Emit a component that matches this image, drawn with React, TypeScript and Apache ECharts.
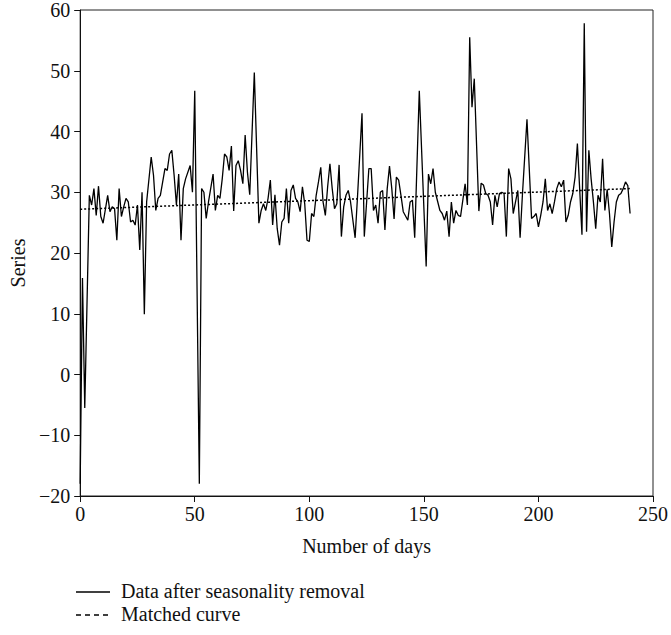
import React, { useEffect, useRef } from "react";
import * as echarts from "echarts";

const days = [0,1,2,4,5,6,7,8,9,10,12,13,14,15,16,17,18,19,20,21,22,23,24,25,26,27,28,29,31,32,33,34,35,37,38,39,40,41,42,43,44,45,46,48,49,50,52,53,54,55,56,58,59,60,61,62,63,64,65,66,67,68,69,70,71,72,73,74,76,78,79,80,81,82,83,84,85,86,87,88,89,90,91,92,93,94,95,96,97,98,99,100,101,102,103,104,105,106,107,108,109,110,111,112,113,114,115,116,117,118,120,121,123,124,126,127,128,129,130,131,132,133,134,135,136,137,138,139,140,141,143,144,145,146,148,151,152,153,154,155,157,158,159,160,161,162,163,164,165,166,168,169,170,171,172,174,175,176,177,178,179,180,181,182,183,184,185,186,187,188,189,190,191,192,193,195,197,198,199,200,201,202,203,204,205,206,207,208,209,210,211,212,213,214,215,216,217,219,220,221,222,223,224,225,226,227,228,229,230,231,232,233,234,235,236,237,238,239,240];
const values = [-18,15.9,-5.5,29.5,27.9,30.6,26.2,31,26,24.9,29.5,26.8,27.6,27.3,22.1,30.6,26,27.6,29,28.4,25.1,25.4,24.6,27.9,20.5,30,9.9,28.4,35.8,32.8,27,29,29.5,33.9,33.6,36.3,36.9,32.8,27.9,33,22.1,30.6,32.2,34.4,30,46.7,-18,30.6,30,25.7,28.4,33,27,29.5,29,32.2,36.3,35.8,33.6,37.6,26.9,34.4,35.2,33.6,31.4,39.4,33.3,29.6,49.7,24.9,27,28.1,27,29,32,24.6,29.6,24,21.3,25.1,25.7,30.6,24.9,30.3,31.2,29,28.4,26.8,30.9,28.1,22.1,21.9,26.5,26,29.5,31.7,34.1,28.4,26.2,30.9,34.7,30.6,27.3,28.1,34.5,22.7,27.6,29.5,30.3,28.4,22.5,29,43,22.7,33.9,33.9,27,27.9,24.9,30,30.3,23.8,30.6,34.3,30.6,25.6,32.5,32,29.5,26.8,25.4,28.4,28.7,22.5,46.7,17.8,33,31.4,33.9,30,27,26.5,25.4,26.9,22.7,28.4,24.9,27,26.2,26,31.4,27.9,55.5,44,48.7,26.9,31.5,31.2,29.8,29.5,28.4,24.6,29.5,27.6,29.8,30,29.8,22.7,33.9,32.2,26.5,28.4,30.3,22.5,29.5,42,25.7,26,26.5,24.3,26.2,28.4,32.2,27,28.1,26.5,28.4,30.6,31.7,30.9,32,25.1,26.2,28.4,29.8,32.5,38,23,57.8,23.5,36.9,32.2,28.4,24,29.5,28.4,35.5,27,30.5,26.5,21,25.1,28.4,29.5,29.8,30.6,31.7,31.1,26.5];

const matchedDays = [0, 120, 240];
const matchedValues = [27.2, 28.9, 30.6];

const seriesNames = ["Data after seasonality removal", "Matched curve"];
const xAxisName = "Number of days";
const yAxisName = "Series";

const FONT = "'Liberation Serif', 'Times New Roman', serif";

export default function App() {
  const ref = useRef<HTMLDivElement>(null);
  useEffect(() => {
    if (!ref.current) return;
    const chart = echarts.init(ref.current, null, { renderer: "svg" });
    const axisLine = { show: true, onZero: false, lineStyle: { color: "#111", width: 1 } };
    const legendRows = [
      { name: seriesNames[0], y: 592, dash: null as any },
      { name: seriesNames[1], y: 615, dash: [5, 4] },
    ];
    const legendGraphics: any[] = [];
    legendRows.forEach((r) => {
      legendGraphics.push({
        type: "line",
        shape: { x1: 76, y1: r.y, x2: 110, y2: r.y },
        style: { stroke: "#000", lineWidth: 1.3, lineDash: r.dash || undefined },
        silent: true,
      });
      legendGraphics.push({
        type: "text",
        x: 121,
        y: r.y - 1,
        style: {
          text: r.name,
          fontFamily: FONT,
          fontSize: 20,
          fill: "#111",
          verticalAlign: "middle",
          align: "left",
        },
        silent: true,
      });
    });
    chart.setOption({
      animation: false,
      textStyle: { fontFamily: FONT },
      grid: {
        left: 75,
        right: 17,
        top: 7,
        bottom: 139,
        show: true,
        borderColor: "#222",
        borderWidth: 1,
      },
      xAxis: {
        type: "value",
        min: 0,
        max: 250,
        interval: 50,
        name: xAxisName,
        nameLocation: "middle",
        nameGap: 40,
        nameTextStyle: { fontFamily: FONT, fontSize: 20, color: "#111" },
        axisLine,
        axisTick: { show: true, length: 6, inside: false, lineStyle: { color: "#111" } },
        axisLabel: { fontFamily: FONT, fontSize: 20, color: "#111", margin: 8 },
        splitLine: { show: false },
      },
      yAxis: {
        type: "value",
        min: -20,
        max: 60,
        interval: 10,
        name: yAxisName,
        nameLocation: "middle",
        nameGap: 40,
        nameRotate: 90,
        nameTextStyle: {
          fontFamily: FONT,
          fontSize: 20,
          color: "#111",
          padding: [0, 20, 0, 0],
        },
        axisLine,
        axisTick: { show: true, length: 6, inside: false, lineStyle: { color: "#111" } },
        axisLabel: {
          fontFamily: FONT,
          fontSize: 20,
          color: "#111",
          margin: 10,
          formatter: (v: number) => (v < 0 ? "\u2212" + Math.abs(v) : String(v)),
        },
        splitLine: { show: false },
      },
      graphic: legendGraphics,
      series: [
        {
          name: seriesNames[0],
          type: "line",
          data: days.map((d, i) => [d, values[i]]),
          showSymbol: false,
          symbol: "none",
          lineStyle: { color: "#000", width: 1.3 },
          itemStyle: { color: "#000" },
          z: 2,
        },
        {
          name: seriesNames[1],
          type: "line",
          data: matchedDays.map((d, i) => [d, matchedValues[i]]),
          showSymbol: false,
          symbol: "none",
          lineStyle: { color: "#000", width: 1.5, type: [2, 2] },
          itemStyle: { color: "#000" },
          z: 3,
        },
      ],
    });
    return () => chart.dispose();
  }, []);
  return (
    <div
      ref={ref}
      style={{ position: "fixed", left: 0, top: 0, width: 671, height: 635, background: "#fff" }}
    />
  );
}
